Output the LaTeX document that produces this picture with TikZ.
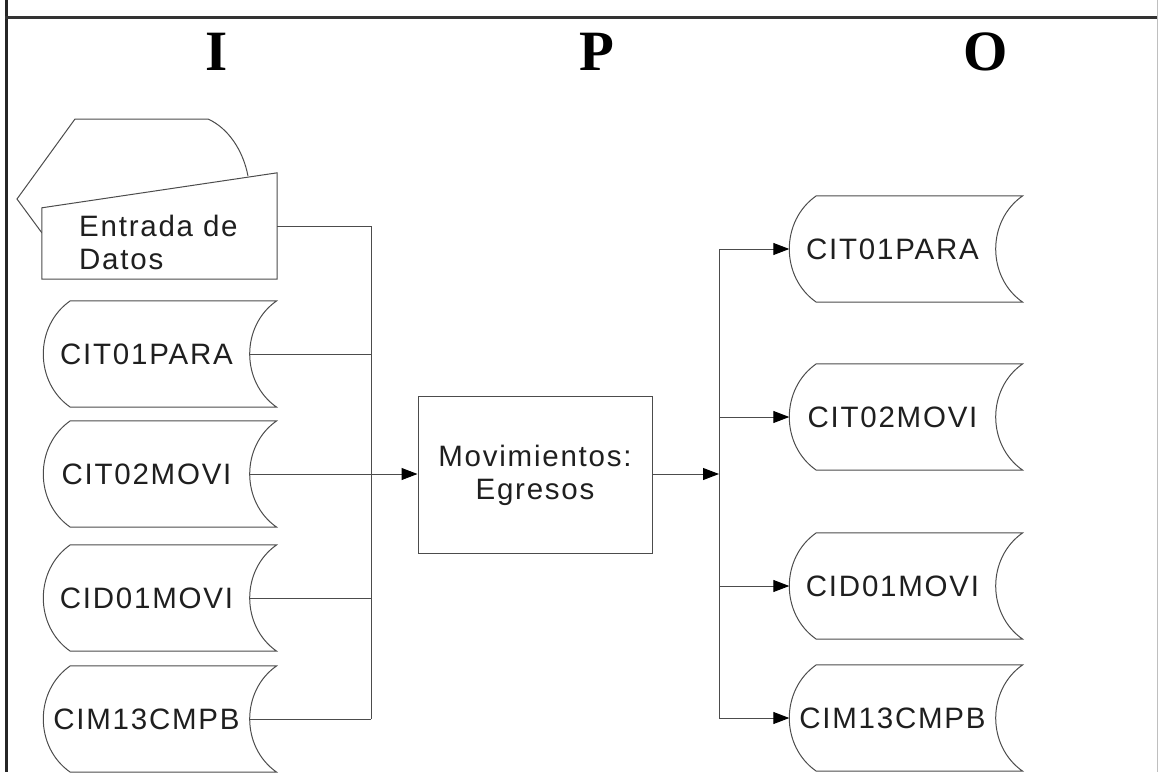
\documentclass[tikz,border=0pt]{standalone}
\usepackage{fontspec}
\setmainfont{Liberation Sans}
\newfontfamily\ipofont{Liberation Serif}
\usetikzlibrary{arrows.meta,calc}
\begin{document}
\begin{tikzpicture}[x=1pt,y=-1pt,
  ln/.style={draw=black!70, line width=1pt},
  arr/.style={ln, -{Triangle[length=16pt,width=12pt,color=black]}},
  store/.style={minimum width=206pt, minimum height=106pt, inner sep=0pt},
  lbl/.style={font=\fontsize{29.5}{33}\selectfont\addfontfeature{LetterSpace=6}, text=black!88},
  ipo/.style={font=\ipofont\bfseries\fontsize{57}{60}\selectfont, inner sep=0pt}
]
\useasboundingbox (0,0) rectangle (1159,772);
% frame
\draw[black!85, line width=3pt] (6,0) -- (6,772);
\draw[black!80, line width=2.2pt] (5,17.5) -- (1158,17.5);
\draw[black!25, line width=1pt] (1157,0) -- (1157,772);
% I P O
\node[ipo, anchor=base] (I) at (217,70) {I};
\node[ipo, anchor=base] (P) at (597,70) {P};
\node[ipo, anchor=base] (O) at (986,70) {O};
% back shape of the input card
\draw[ln] (42,233) -- (17,199) -- (75,119) -- (208,119)
  .. controls (228,128) and (243,150) .. (248,176);
% front card (manual input)
\node[inner sep=0pt, minimum width=235pt, minimum height=106pt] (card) at (159.5,226) {};
\draw[ln, fill=white] (card.south west) -- ([yshift=-35pt]card.north west) -- (card.north east) -- (card.south east) -- cycle;
\node[lbl, align=left, anchor=north west, inner sep=0pt] (cardtxt) at (79,215) {Entrada de\\Datos};
% storages
\node[store, lbl] (i1) at (146.5,354) {CIT01PARA};
\node[store, lbl] (i2) at (146.5,474) {CIT02MOVI};
\node[store, lbl] (i3) at (146.5,598) {CID01MOVI};
\node[store, lbl] (i4) at (146.5,719) {CIM13CMPB};
\node[store, lbl] (o1) at (892.5,249) {CIT01PARA};
\node[store, lbl] (o2) at (892.5,417) {CIT02MOVI};
\node[store, lbl] (o3) at (892.5,586) {CID01MOVI};
\node[store, lbl] (o4) at (892.5,718) {CIM13CMPB};
\foreach \n in {i1,i2,i3,i4,o1,o2,o3,o4} {
  \draw[ln] ([xshift=27pt]\n.north west)
    .. controls ([xshift=-9pt,yshift=-25pt]\n.north west) and ([xshift=-9pt,yshift=25pt]\n.south west) .. ([xshift=27pt]\n.south west)
    -- ([xshift=27pt]\n.south east)
    .. controls ([xshift=-9pt,yshift=25pt]\n.south east) and ([xshift=-9pt,yshift=-25pt]\n.north east) .. ([xshift=27pt]\n.north east)
    -- cycle;
}
% process
\node[ln, lbl, align=center, minimum width=234pt, minimum height=157pt, inner sep=0pt] (proc) at (535,475) {Movimientos:\\Egresos};
% junctions
\coordinate (jL) at (371,474);
\coordinate (jR) at (719,474);
% input connectors
\draw[ln] (card.east) -- (card.east -| jL);
\foreach \n in {i1,i2,i3,i4} \draw[ln] (\n.east) -- (\n.east -| jL);
\draw[ln] (card.east -| jL) -- (i4.east -| jL);
\draw[arr] (jL) -- (jL -| proc.west);
% output connectors
\draw[arr] (jR -| proc.east) -- (jR);
\draw[ln] (o1.west -| jR) -- (o4.west -| jR);
\foreach \n in {o1,o2,o3,o4} \draw[arr] (\n.west -| jR) -- (\n.west);
\end{tikzpicture}
\end{document}
